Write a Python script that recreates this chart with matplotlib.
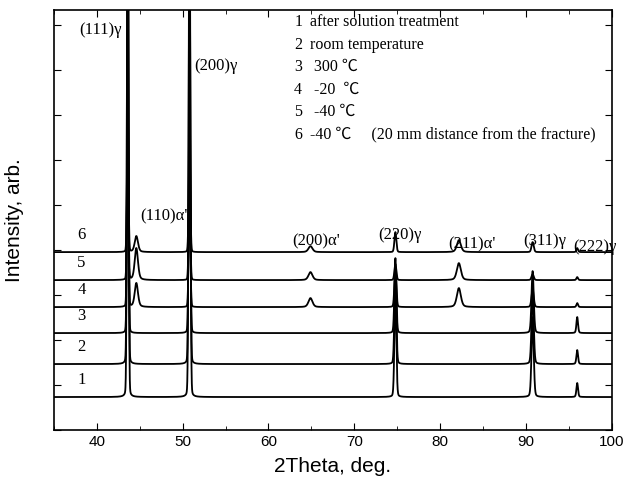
import numpy as np
import matplotlib.pyplot as plt
from matplotlib.ticker import MultipleLocator, NullFormatter

# peak positions (2theta, deg)
peak_pos = [43.6, 44.6, 50.8, 64.9, 74.8, 82.2, 90.8, 96.0]
peak_width = [0.2, 0.45, 0.22, 0.55, 0.26, 0.55, 0.3, 0.22]
# lorentzian fraction of each peak
peak_eta = [0.08, 0.4, 0.08, 0.4, 0.15, 0.4, 0.2, 0.3]

# peak heights per pattern, same order as peak_pos
heights = {
    '1': [600, 0, 520, 0, 105, 0, 80, 14],
    '2': [520, 0, 430, 0, 95, 0, 72, 14],
    '3': [320, 0, 260, 0, 75, 0, 62, 16],
    '4': [200, 24, 120, 9, 40, 19, 18, 4],
    '5': [150, 32, 100, 8, 16, 17, 6, 3],
    '6': [140, 16, 110, 6, 20, 12, 10, 4],
}
offsets = {'1': 33, '2': 66, '3': 97, '4': 123, '5': 150, '6': 178}

annotations = [
    ('(111)γ', 40.4, 400),
    ('(200)γ', 53.9, 364),
    ('(110)α\'', 47.8, 214),
    ('(200)α\'', 65.6, 189),
    ('(220)γ', 75.3, 195),
    ('(211)α\'', 83.7, 186),
    ('(311)γ', 92.2, 189),
    ('(222)γ', 98.1, 183),
]

legend_lines = [
    ('1', 'after solution treatment'),
    ('2', 'room temperature'),
    ('3', ' 300 ℃'),
    ('4', ' -20  ℃'),
    ('5', ' -40 ℃'),
    ('6', '-40 ℃     (20 mm distance from the fracture)'),
]

serif = ['Liberation Serif', 'Noto Sans CJK SC', 'DejaVu Serif']

fig = plt.figure(figsize=(6.3, 4.87), dpi=100)
ax = fig.add_axes([0.0857, 0.117, 0.885, 0.862])

x = np.linspace(35, 100, 6000)
for name, h in heights.items():
    y = np.full_like(x, offsets[name], dtype=float)
    for pos, w, eta, amp in zip(peak_pos, peak_width, peak_eta, h):
        # pseudo-Voigt profile
        g = np.exp(-4 * np.log(2) * ((x - pos) / w) ** 2)
        lz = 1 / (1 + 4 * ((x - pos) / w) ** 2)
        y += amp * ((1 - eta) * g + eta * lz)
    ax.plot(x, y, color='black', linewidth=1.3)
    ax.text(38.2, offsets[name] + 17, name, fontsize=12, family=serif,
            ha='center', va='center')

for label, xp, yp in annotations:
    ax.text(xp, yp, label, fontsize=12, family=serif, ha='center', va='center')

for i, (num, desc) in enumerate(legend_lines):
    yy = 408 - i * 22.5
    ax.text(63.0, yy, num, fontsize=11.5, family=serif, va='center')
    ax.text(64.8, yy, desc, fontsize=11.5, family=serif, va='center')

ax.set_xlim(35, 100)
ax.set_ylim(0, 420)
ax.xaxis.set_major_locator(MultipleLocator(10))
ax.xaxis.set_minor_locator(MultipleLocator(5))
ax.yaxis.set_major_locator(MultipleLocator(45))
ax.yaxis.set_major_formatter(NullFormatter())
ax.tick_params(which='both', direction='in', top=True, right=True,
               labelsize=11)
ax.tick_params(which='major', length=5)
ax.tick_params(which='minor', length=3)
for lbl in ax.get_xticklabels():
    lbl.set_family('Liberation Sans')
for s in ax.spines.values():
    s.set_linewidth(1.2)

ax.set_xlabel('2Theta, deg.', fontsize=15, family='Liberation Sans', labelpad=6)
ax.set_ylabel('Intensity, arb.', fontsize=15, family='Liberation Sans', labelpad=18)

fig.savefig('out.png', dpi=100)
